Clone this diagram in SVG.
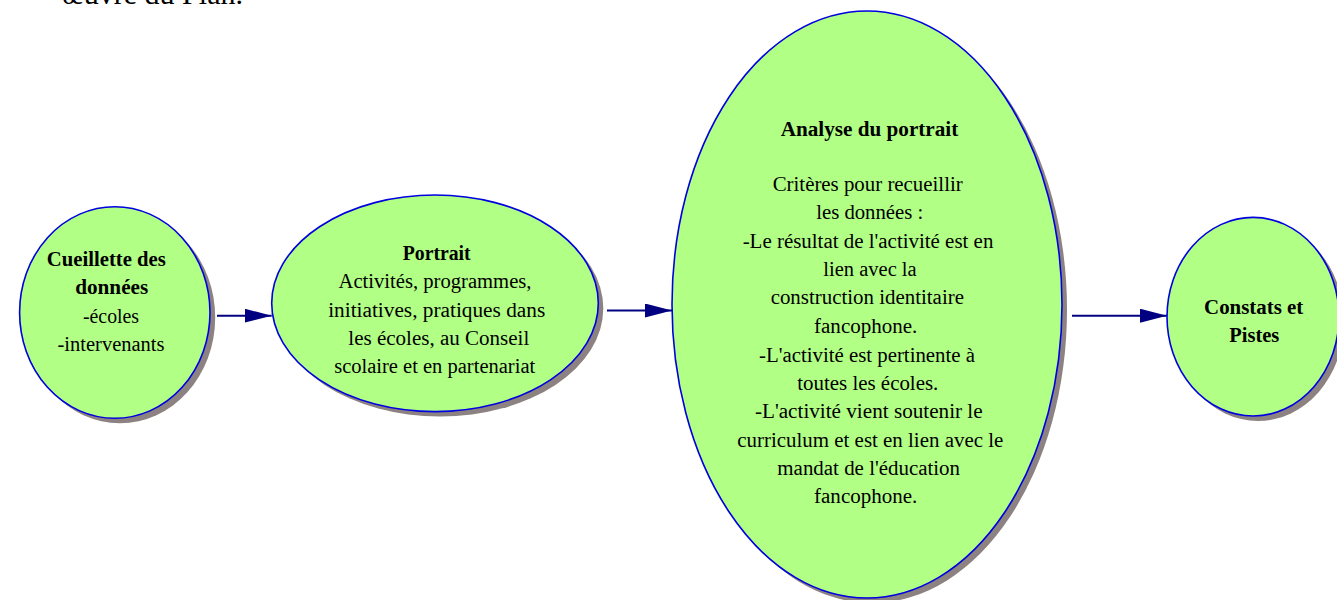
<svg xmlns="http://www.w3.org/2000/svg" width="1337" height="600" viewBox="0 0 1337 600">
  <style>
    .shadow { fill: #8c8282; stroke: none; }
    .node { fill: #b2ff86; stroke: #0000e0; stroke-width: 1.6; }
    text { font-family: "Liberation Serif", "Times New Roman", serif; font-size: 20px; fill: #000; text-anchor: middle; }
    .b { font-weight: bold; }
    .conn { stroke: #000080; stroke-width: 2; fill: none; }
    .top { font-size: 30px; text-anchor: start; }
  </style>
  <defs>
    <marker id="arrow" viewBox="0 0 27 14" refX="27" refY="7" markerWidth="27" markerHeight="14" markerUnits="userSpaceOnUse" orient="auto">
      <path d="M0,0 L27,7 L0,14 z" fill="#000080"/>
    </marker>
  </defs>
  <rect width="1337" height="600" fill="#ffffff"/>

  <text class="top" x="62" y="3.5" textLength="181" lengthAdjust="spacingAndGlyphs">œuvre du Plan.</text>

  <g id="connectors">
    <line class="conn" x1="217" y1="315.7" x2="271.7" y2="315.7" marker-end="url(#arrow)"/>
    <line class="conn" x1="607" y1="310.5" x2="672" y2="310.5" marker-end="url(#arrow)"/>
    <line class="conn" x1="1072" y1="315.7" x2="1167" y2="315.7" marker-end="url(#arrow)"/>
  </g>

  <g id="node-cueillette">
    <ellipse class="shadow" cx="120" cy="317.5" rx="95.2" ry="105.8"/>
    <ellipse class="node" cx="114.8" cy="312.5" rx="95.2" ry="105.8"/>
    <text class="b" x="106.3" y="266" textLength="119" lengthAdjust="spacingAndGlyphs">Cueillette des</text>
    <text class="b" x="111.7" y="294" textLength="73" lengthAdjust="spacingAndGlyphs">données</text>
    <text x="111" y="322.5" textLength="56" lengthAdjust="spacingAndGlyphs">-écoles</text>
    <text x="111" y="350.5" textLength="107" lengthAdjust="spacingAndGlyphs">-intervenants</text>
  </g>

  <g id="node-portrait">
    <ellipse class="shadow" cx="440" cy="308.3" rx="163.3" ry="108.3"/>
    <ellipse class="node" cx="435" cy="303.3" rx="163.3" ry="108.3"/>
    <text class="b" x="436.7" y="260" textLength="68" lengthAdjust="spacingAndGlyphs">Portrait</text>
    <text x="435" y="288.3" textLength="193" lengthAdjust="spacingAndGlyphs">Activités, programmes,</text>
    <text x="436.7" y="316.7" textLength="217" lengthAdjust="spacingAndGlyphs">initiatives, pratiques dans</text>
    <text x="438.8" y="345" textLength="181" lengthAdjust="spacingAndGlyphs">les écoles, au Conseil</text>
    <text x="434.7" y="373.3" textLength="201" lengthAdjust="spacingAndGlyphs">scolaire et en partenariat</text>
  </g>

  <g id="node-analyse">
    <ellipse class="shadow" cx="872" cy="309.5" rx="195" ry="293.5"/>
    <ellipse class="node" cx="867" cy="304.5" rx="195" ry="293.5"/>
    <text class="b" x="869.5" y="136" textLength="177.6" lengthAdjust="spacingAndGlyphs">Analyse du portrait</text>
    <text x="867.7" y="190.7" textLength="190" lengthAdjust="spacingAndGlyphs">Critères pour recueillir</text>
    <text x="869.7" y="219.3" textLength="107" lengthAdjust="spacingAndGlyphs">les données :</text>
    <text x="868" y="247.7" textLength="250.7" lengthAdjust="spacingAndGlyphs">-Le résultat de l'activité est en</text>
    <text x="870" y="276" textLength="93.3" lengthAdjust="spacingAndGlyphs">lien avec la</text>
    <text x="867.3" y="304.3" textLength="193.3" lengthAdjust="spacingAndGlyphs">construction identitaire</text>
    <text x="865.7" y="332.7" textLength="103.3" lengthAdjust="spacingAndGlyphs">fancophone.</text>
    <text x="867" y="361.5" textLength="216" lengthAdjust="spacingAndGlyphs">-L'activité est pertinente à</text>
    <text x="867.8" y="390" textLength="141" lengthAdjust="spacingAndGlyphs">toutes les écoles.</text>
    <text x="868.8" y="418.3" textLength="227.7" lengthAdjust="spacingAndGlyphs">-L'activité vient soutenir le</text>
    <text x="870.3" y="446.7" textLength="266" lengthAdjust="spacingAndGlyphs">curriculum et est en lien avec le</text>
    <text x="868.7" y="475" textLength="182.7" lengthAdjust="spacingAndGlyphs">mandat de l'éducation</text>
    <text x="865.7" y="503.3" textLength="103.3" lengthAdjust="spacingAndGlyphs">fancophone.</text>
  </g>

  <g id="node-constats">
    <ellipse class="shadow" cx="1258" cy="321.7" rx="86" ry="99.3"/>
    <ellipse class="node" cx="1253" cy="316.7" rx="86" ry="99.3"/>
    <text class="b" x="1253.7" y="314.3" textLength="99.3" lengthAdjust="spacingAndGlyphs">Constats et</text>
    <text class="b" x="1254.3" y="341.7" textLength="50" lengthAdjust="spacingAndGlyphs">Pistes</text>
  </g>
</svg>
